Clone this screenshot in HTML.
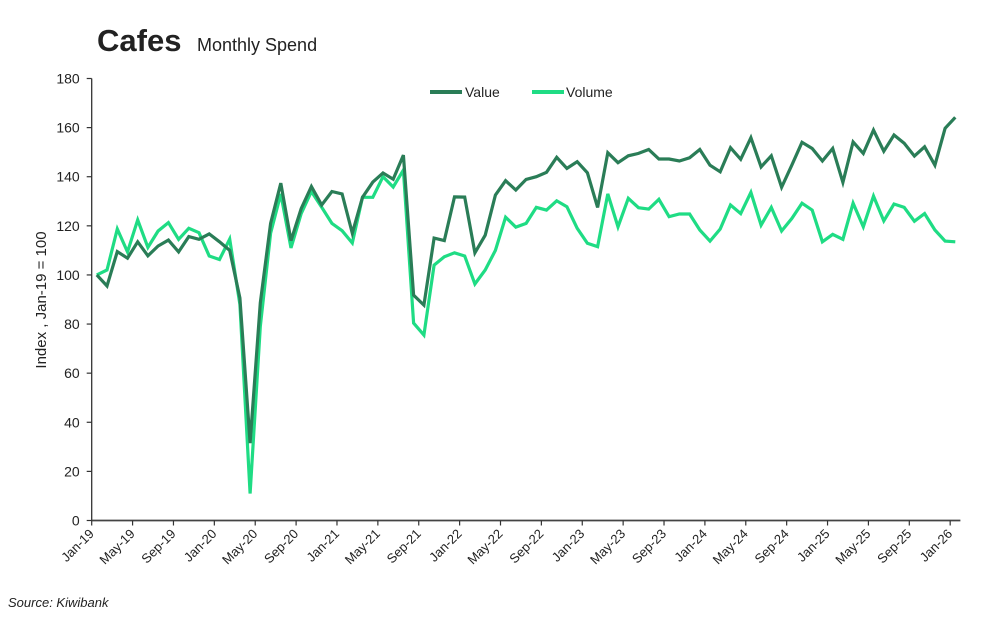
<!DOCTYPE html>
<html><head><meta charset="utf-8"><style>
body{margin:0;background:#fff;width:1000px;height:615px;overflow:hidden;font-family:"Liberation Sans",sans-serif;}
svg text{font-family:"Liberation Sans",sans-serif;fill:#222;}
</style></head><body>
<svg id="chart" width="1000" height="615">
<text x="97" y="51" font-size="31" font-weight="bold">Cafes</text>
<text x="197" y="51" font-size="18">Monthly Spend</text>
<g>
<line x1="430" y1="92" x2="462" y2="92" stroke="#2a7d57" stroke-width="4"/>
<text x="465" y="97" font-size="14">Value</text>
<line x1="532" y1="92" x2="564" y2="92" stroke="#1fdc84" stroke-width="4"/>
<text x="566" y="97" font-size="14">Volume</text>
</g>
<text transform="translate(46,300) rotate(-90)" text-anchor="middle" font-size="15">Index , Jan-19 = 100</text>
<text x="8" y="607" font-size="13" font-style="italic">Source: Kiwibank</text>
<g id="axes"></g>
<g id="series"></g>
</svg>
<script>
const months=["Jan","Feb","Mar","Apr","May","Jun","Jul","Aug","Sep","Oct","Nov","Dec"];
const valueSeries=[100,95.5,109.5,106.8,113.5,107.8,111.8,114.2,109.4,115.6,114.5,116.7,113.5,110,90.6,31.5,88.6,121,137.4,114,127,136,128.5,134,133,117,131.6,137.8,141.5,139,148.8,91.8,87.7,115,114,131.8,131.7,109,116.2,132.5,138.4,134.6,138.9,140,141.8,147.9,143.4,146.1,141.6,127.5,149.8,145.7,148.5,149.5,151.1,147.2,147.2,146.4,147.7,151.1,144.7,142,151.8,147.1,155.9,144,148.5,135.7,144.7,154,151.5,146.4,151.5,137.7,154.2,149.5,159,150.4,157,153.6,148.4,152.2,144.7,159.7,164.2];
const volumeSeries=[100,102,118.7,109.4,122.4,111.2,117.9,121.3,114.5,119,117.2,107.7,106.3,114.6,88,11,79,117,133,111,125,134,127.6,121,118,113,131.6,131.6,140,135.8,142.7,80.4,75.5,104,107.4,109,107.7,96.3,102,110,123.5,119.5,121,127.5,126.4,130.2,127.8,119,112.9,111.5,133,119.6,131.2,127.4,126.8,130.8,123.7,124.8,124.8,118.3,113.8,118.7,128.5,125,133.6,120.3,127.5,117.9,123,129.2,126.4,113.5,116.5,114.5,129.2,119.6,132.1,122,128.9,127.5,121.9,125,118.3,113.8,113.5];
const yTicks=[0,20,40,60,80,100,120,140,160,180];
const categories=valueSeries.map((_,i)=>months[i%12]+"-"+String(19+Math.floor(i/12)));
const NS="http://www.w3.org/2000/svg";
const X0=91.7,CW=10.22,Y0=520.5,YS=442/180;
const xPos=i=>X0+CW*(i+0.5), xTick=i=>X0+CW*i, yPos=v=>Y0-v*YS;
function mk(t,a,p){const e=document.createElementNS(NS,t);for(const k in a)e.setAttribute(k,a[k]);p.appendChild(e);return e;}
const ax=document.getElementById('axes');
const yl=mk('line',{x1:X0,y1:yPos(180),x2:X0,y2:Y0,stroke:'#333','stroke-width':1.3},ax);


const xl=mk('line',{x1:X0,y1:Y0,x2:X0+CW*85,y2:Y0,stroke:'#444','stroke-width':1.8},ax);


yTicks.forEach(v=>{
 mk('line',{x1:X0-5,y1:yPos(v),x2:X0,y2:yPos(v),stroke:'#333','stroke-width':1.2},ax);
 const t=mk('text',{x:X0-12,y:yPos(v)+5,'text-anchor':'end','font-size':14},ax);
 t.textContent=v;
 
 
});
categories.forEach((c,i)=>{
 if(i%4)return;
 const x=xTick(i);
 mk('line',{x1:x,y1:Y0,x2:x,y2:Y0+5,stroke:'#333','stroke-width':1.2},ax);
 const t=mk('text',{x:x+3,y:Y0+14,'text-anchor':'end','font-size':13,transform:`rotate(-45 ${x+3} ${Y0+14})`},ax);
 t.textContent=c;
 
 
});
const sg=document.getElementById('series');
[[volumeSeries,'#1fdc84','volume-line'],[valueSeries,'#2a7d57','value-line']].forEach(([d,col,n])=>{
 const p=mk('polyline',{points:d.map((v,i)=>xPos(i).toFixed(1)+','+yPos(v).toFixed(1)).join(' '),fill:'none',stroke:col,'stroke-width':3.2,'stroke-linejoin':'miter'},sg);
 
 
});
</script>
</body></html>
